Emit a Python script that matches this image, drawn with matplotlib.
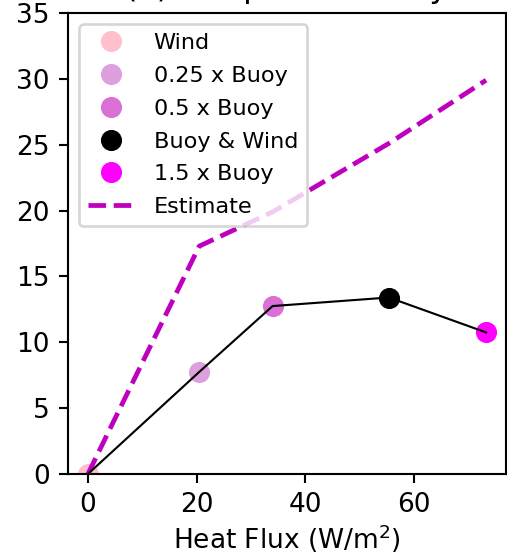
import matplotlib
matplotlib.use("Agg")
import matplotlib.pyplot as plt

labels = ["Wind", "0.25 x Buoy", "0.5 x Buoy", "Buoy & Wind", "1.5 x Buoy"]
colors = ["pink", "plum", "orchid", "black", "magenta"]
heat_flux = [0.0, 20.5, 34.0, 55.4, 73.3]
response = [0.0, 7.75, 12.75, 13.4, 10.75]
estimate = [0.0, 17.3, 19.9, 25.1, 29.9]

dpi = 190
fig = plt.figure(figsize=(507 / dpi, 558 / dpi), dpi=dpi)
ax = fig.add_axes([68 / 507, 1 - 474 / 558, (506 - 68) / 507, (474 - 13) / 558])

for x, y, c, lab in zip(heat_flux, response, colors, labels):
    ax.plot([x], [y], 'o', color=c, markersize=7, label=lab, zorder=2)
ax.plot(heat_flux, estimate, '--', color='m', lw=1.8, label='Estimate', zorder=3)
ax.plot(heat_flux, response, '-', color='black', lw=0.8, zorder=4)

ax.set_ylim(0, 35)
ax.set_xticks([0, 20, 40, 60])
ax.set_xlabel('Heat Flux (W/m$^2$)', labelpad=1.5)
ax.set_title('(a) Temp. Sensitivity')
ax.legend(loc='upper left', fontsize=8.5, labelspacing=0.57, handletextpad=0.92)

fig.savefig('out.png', dpi=dpi)
